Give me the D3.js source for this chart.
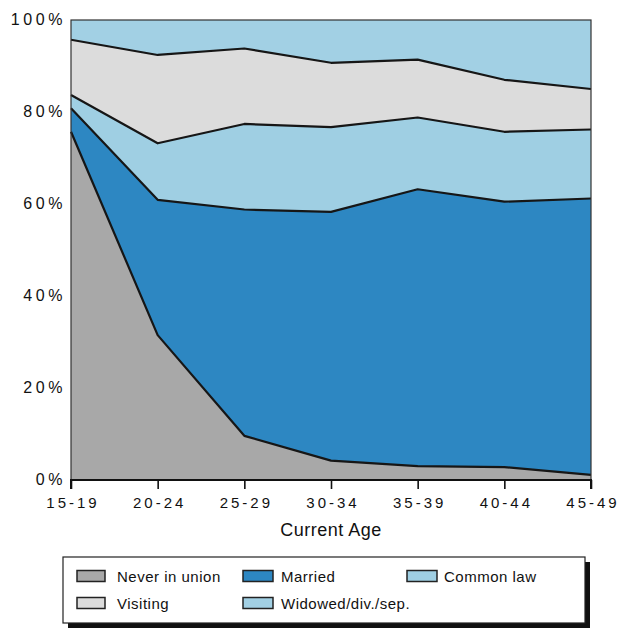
<!DOCTYPE html>
<html>
<head>
<meta charset="utf-8">
<script src="https://cdn.jsdelivr.net/npm/d3@7/dist/d3.min.js"></script>
<style>
  html, body { margin: 0; padding: 0; background: #fff; }
  svg { display: block; font-family: "Liberation Sans", Arial, Helvetica, sans-serif; }
</style>
</head>
<body>
<svg id="chart" width="619" height="629"></svg>
<script>
// ---- Data (percent of women, stacked to 100%) ----
const ages = ["15-19", "20-24", "25-29", "30-34", "35-39", "40-44", "45-49"];
const neverInUnion = [75.7, 31.5, 9.6, 4.2, 3.0, 2.8, 1.1];
const married      = [5.1, 29.4, 49.2, 54.1, 60.2, 57.7, 60.1];
const commonLaw    = [2.9, 12.3, 18.6, 18.4, 15.6, 15.2, 15.0];
const visiting     = [12.0, 19.2, 16.4, 14.0, 12.6, 11.3, 8.8];
const widowed      = [4.3, 7.6, 6.2, 9.3, 8.6, 13.0, 15.0];
const yTicks = [0, 20, 40, 60, 80, 100];
const seriesNames = ["Never in union", "Married", "Common law", "Visiting", "Widowed/div./sep."];

const seriesKeys = ["never", "married", "common", "visiting", "widowed"];
const colors = {
  never: "#a8a8a8",
  married: "#2d87c2",
  common: "#9fcfe3",
  visiting: "#dcdcdc",
  widowed: "#a2d0e4"
};

const table = ages.map((a, i) => ({
  age: a,
  never: neverInUnion[i],
  married: married[i],
  common: commonLaw[i],
  visiting: visiting[i],
  widowed: widowed[i]
}));

const svg = d3.select("#chart");
const mLeft = 71, mRight = 591, mTop = 20, mBottom = 480;

const x = d3.scalePoint().domain(ages).range([mLeft, mRight]);
const y = d3.scaleLinear().domain([0, 100]).range([mBottom, mTop]);

const stack = d3.stack().keys(seriesKeys);
const layers = stack(table);

const area = d3.area()
  .x(d => x(d.data.age))
  .y0(d => y(d[0]))
  .y1(d => y(d[1]));

svg.append("g").selectAll("path")
  .data(layers)
  .join("path")
  .attr("d", area)
  .attr("fill", d => colors[d.key]);

// boundary lines (top of each layer except the topmost)
const line = d3.line()
  .x(d => x(d.data.age))
  .y(d => y(d[1]));

svg.append("g").selectAll("path")
  .data(layers.slice(0, layers.length - 1))
  .join("path")
  .attr("d", line)
  .attr("fill", "none")
  .attr("stroke", "#161616")
  .attr("stroke-width", 2.2)
  .attr("stroke-linejoin", "round");

// plot frame
svg.append("rect")
  .attr("x", mLeft).attr("y", mTop)
  .attr("width", mRight - mLeft).attr("height", mBottom - mTop)
  .attr("fill", "none")
  .attr("stroke", "#333")
  .attr("stroke-width", 1.2);

// x axis
const xAxis = d3.axisBottom(x).tickSize(9).tickPadding(8);
const gx = svg.append("g").attr("transform", `translate(0,${mBottom})`).call(xAxis);
gx.select(".domain").attr("stroke", "#111").attr("stroke-width", 2).attr("d", `M${mLeft},9V0H${mRight}V9`);
gx.selectAll(".tick line").attr("stroke", "#111").attr("stroke-width", 1.6);
gx.selectAll(".tick text")
  .attr("fill", "#111")
  .style("font-size", "15px")
  .style("letter-spacing", "3px")
  .attr("dx", "1.5px");

// y axis (labels only)
const yAxis = d3.axisLeft(y).tickValues(yTicks).tickSize(0).tickPadding(5)
  .tickFormat(d => d + "%");
const gy = svg.append("g").attr("transform", `translate(${mLeft},0)`).call(yAxis);
gy.select(".domain").remove();
gy.selectAll(".tick text")
  .attr("fill", "#111")
  .attr("dy", "0.28em")
  .style("font-size", "16px")
  .style("letter-spacing", "3.6px");

// axis title
svg.append("text")
  .attr("x", (mLeft + mRight) / 2)
  .attr("y", 536)
  .attr("text-anchor", "middle")
  .attr("fill", "#111")
  .style("font-size", "18px")
  .style("letter-spacing", "0.5px")
  .text("Current Age");

// legend
const lg = svg.append("g");
lg.append("rect").attr("x", 68).attr("y", 562).attr("width", 522).attr("height", 66).attr("fill", "#111");
lg.append("rect").attr("x", 63).attr("y", 557).attr("width", 522).attr("height", 66)
  .attr("fill", "#fff").attr("stroke", "#222").attr("stroke-width", 1.2);

const legendItems = [
  { key: "never",    name: seriesNames[0], sx: 77,  tx: 117, cy: 576 },
  { key: "married",  name: seriesNames[1], sx: 243, tx: 281, cy: 576 },
  { key: "common",   name: seriesNames[2], sx: 407, tx: 444, cy: 576 },
  { key: "visiting", name: seriesNames[3], sx: 77,  tx: 117, cy: 603 },
  { key: "widowed",  name: seriesNames[4], sx: 243, tx: 281, cy: 603 }
];
const li = lg.selectAll("g.item").data(legendItems).join("g").attr("class", "item");
li.append("rect")
  .attr("x", d => d.sx).attr("y", d => d.cy - 5.5)
  .attr("width", d => d.key === "never" || d.key === "visiting" ? 28 : 30).attr("height", 11)
  .attr("fill", d => colors[d.key])
  .attr("stroke", "#222").attr("stroke-width", 1.5);
li.append("text")
  .attr("x", d => d.tx).attr("y", d => d.cy + 5.5)
  .attr("fill", "#111")
  .style("font-size", "15px")
  .style("letter-spacing", "0.5px")
  .text(d => d.name);
</script>
</body>
</html>
